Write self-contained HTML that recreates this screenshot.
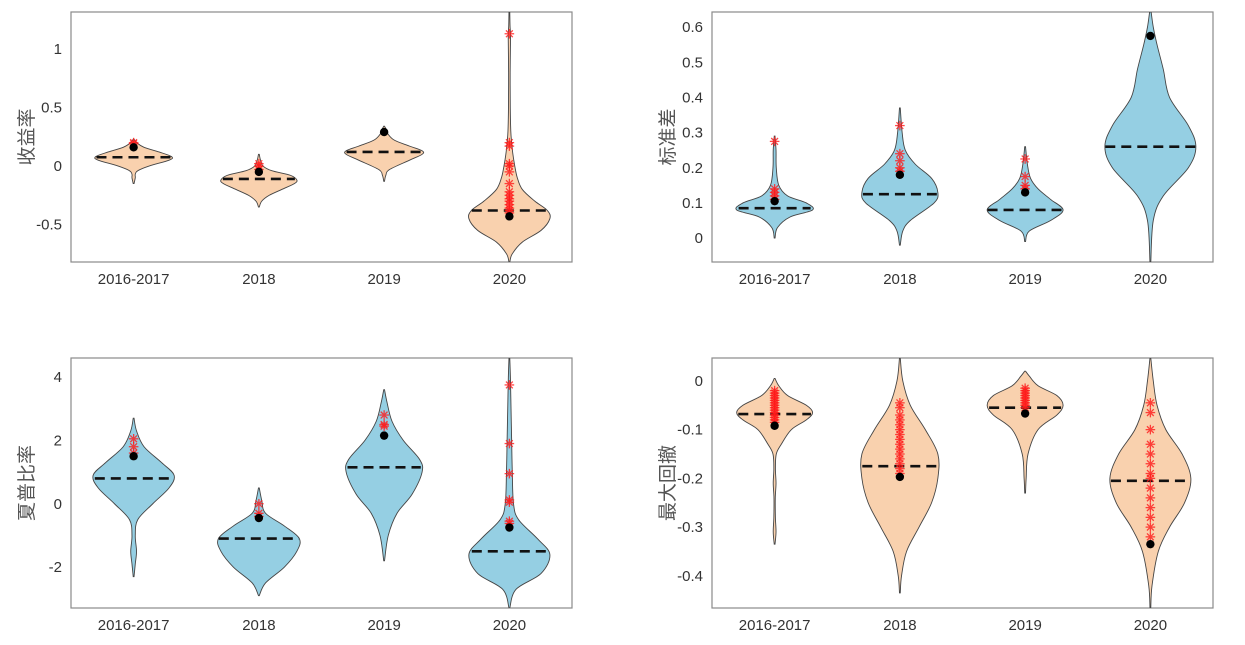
<!DOCTYPE html>
<html><head><meta charset="utf-8"><style>
html,body{margin:0;padding:0;background:#fff;width:1245px;height:645px;overflow:hidden}
svg text{font-family:"Liberation Sans","Noto Sans CJK SC",sans-serif}
</style></head><body>
<svg id="chart" width="1245" height="645" viewBox="0 0 1245 645" xmlns="http://www.w3.org/2000/svg"></svg>
<script>
const categories = ["2016-2017","2018","2019","2020"];

// Panel 1: 收益率
const retTicks = [-0.5,0,0.5,1];
const retTickLabels = ["-0.5","0","0.5","1"];
const retProfileY = [
 [-0.15,-0.1,-0.07,-0.04,0,0.05,0.08,0.12,0.16,0.2,0.23],
 [-0.35,-0.3,-0.25,-0.2,-0.15,-0.12,-0.08,-0.04,0,0.05,0.1],
 [-0.13,-0.08,-0.03,0.05,0.1,0.13,0.17,0.22,0.27,0.3,0.34],
 [-0.82,-0.75,-0.65,-0.55,-0.45,-0.38,-0.3,-0.2,-0.1,0,0.1,0.2,0.3,0.5,0.8,1.1,1.2,1.32]];
const retProfileW = [
 [0,0.01,0.01,0.03,0.12,0.28,0.3,0.2,0.08,0.02,0],
 [0,0.02,0.08,0.18,0.28,0.3,0.25,0.1,0.03,0.01,0],
 [0,0.01,0.04,0.2,0.3,0.3,0.2,0.08,0.03,0.02,0],
 [0,0.02,0.1,0.25,0.32,0.3,0.2,0.1,0.06,0.04,0.025,0.015,0.008,0.004,0.003,0.006,0.002,0]];
const retMedians = [0.075,-0.11,0.12,-0.38];
const retMeans = [0.16,-0.05,0.29,-0.43];
const retOutliers = [[0.2,0.19],[0,0.02,-0.03],[],[1.13,0.2,0.17,0.02,0,-0.05,-0.15,-0.22,-0.25,-0.28,-0.3,-0.33,-0.36,-0.38,-0.4]];

// Panel 2: 标准差
const stdTicks = [0,0.1,0.2,0.3,0.4,0.5,0.6];
const stdTickLabels = ["0","0.1","0.2","0.3","0.4","0.5","0.6"];
const stdProfileY = [
 [0,0.03,0.06,0.08,0.1,0.12,0.15,0.2,0.25,0.29],
 [-0.02,0.02,0.05,0.1,0.13,0.17,0.21,0.25,0.3,0.37],
 [-0.01,0.02,0.05,0.08,0.11,0.14,0.17,0.21,0.26],
 [-0.07,0.05,0.12,0.2,0.26,0.32,0.4,0.48,0.55,0.6,0.643]];
const stdProfileW = [
 [0,0.02,0.12,0.3,0.25,0.1,0.03,0.01,0.008,0],
 [0,0.02,0.08,0.27,0.3,0.25,0.12,0.04,0.015,0],
 [0,0.03,0.2,0.3,0.2,0.1,0.04,0.015,0],
 [0,0.02,0.1,0.3,0.36,0.3,0.15,0.1,0.05,0.02,0.003]];
const stdMedians = [0.085,0.125,0.08,0.26];
const stdMeans = [0.105,0.18,0.13,0.575];
const stdOutliers = [[0.275,0.14,0.13,0.12,0.11],[0.32,0.24,0.22,0.2,0.19],[0.225,0.175,0.15,0.14],[]];

// Panel 3: 夏普比率
const shpTicks = [-2,0,2,4];
const shpTickLabels = ["-2","0","2","4"];
const shpProfileY = [
 [-2.3,-1.9,-1.5,-1,-0.5,0,0.5,0.9,1.3,1.8,2.3,2.7],
 [-2.9,-2.5,-2,-1.5,-1.1,-0.7,-0.3,0.1,0.5],
 [-1.8,-1,-0.3,0.3,1,1.4,2,2.6,3.2,3.6],
 [-3.29,-2.7,-2.2,-1.6,-1.1,-0.5,0,1,2,3,4,4.6]];
const shpProfileW = [
 [0,0.01,0.02,0.01,0.03,0.15,0.28,0.32,0.22,0.08,0.02,0],
 [0,0.05,0.2,0.3,0.32,0.2,0.05,0.02,0],
 [0,0.03,0.1,0.22,0.3,0.28,0.15,0.06,0.02,0],
 [0,0.05,0.25,0.32,0.22,0.07,0.03,0.02,0.015,0.01,0.005,0]];
const shpMedians = [0.8,-1.1,1.15,-1.5];
const shpMeans = [1.5,-0.45,2.15,-0.75];
const shpOutliers = [[2.05,1.8,1.6],[0,-0.3,-0.4],[2.8,2.5,2.45],[3.75,1.9,0.95,0.12,0.05,-0.55,-0.62]];

// Panel 4: 最大回撤
const mddTicks = [-0.4,-0.3,-0.2,-0.1,0];
const mddTickLabels = ["-0.4","-0.3","-0.2","-0.1","0"];
const mddProfileY = [
 [-0.335,-0.31,-0.28,-0.24,-0.21,-0.18,-0.15,-0.13,-0.1,-0.08,-0.065,-0.05,-0.03,-0.01,0.005],
 [-0.435,-0.4,-0.35,-0.3,-0.25,-0.2,-0.15,-0.1,-0.05,0,0.047],
 [-0.23,-0.2,-0.15,-0.1,-0.07,-0.05,-0.03,-0.01,0.01,0.02],
 [-0.466,-0.42,-0.35,-0.3,-0.25,-0.2,-0.15,-0.1,-0.05,0,0.047]];
const mddProfileW = [
 [0,0.008,0.003,0.002,0.008,0.003,0.01,0.05,0.13,0.25,0.3,0.25,0.1,0.03,0],
 [0,0.01,0.05,0.15,0.25,0.3,0.3,0.2,0.08,0.02,0],
 [0,0.005,0.02,0.1,0.25,0.3,0.25,0.1,0.03,0],
 [0,0.01,0.06,0.15,0.27,0.32,0.25,0.12,0.05,0.02,0]];
const mddMedians = [-0.068,-0.175,-0.055,-0.205];
const mddMeans = [-0.092,-0.197,-0.067,-0.335];
const mddOutliers = [
 [-0.02,-0.025,-0.03,-0.035,-0.04,-0.045,-0.05,-0.055,-0.06,-0.065,-0.07,-0.075,-0.08,-0.085],
 [-0.045,-0.055,-0.07,-0.08,-0.09,-0.1,-0.11,-0.12,-0.13,-0.14,-0.15,-0.16,-0.17,-0.18,-0.19],
 [-0.015,-0.02,-0.025,-0.03,-0.035,-0.04,-0.045,-0.05,-0.055],
 [-0.045,-0.065,-0.1,-0.13,-0.15,-0.17,-0.19,-0.2,-0.22,-0.24,-0.26,-0.28,-0.3,-0.32]];

const NS = "http://www.w3.org/2000/svg";
const svg = document.getElementById("chart");
function mk(tag, attrs, parent){const e=document.createElementNS(NS,tag);for(const k in attrs)e.setAttribute(k,attrs[k]);(parent||svg).appendChild(e);return e;}

function smoothPath(pts){
  let d="M"+pts[0][0].toFixed(2)+","+pts[0][1].toFixed(2);
  for(let i=0;i<pts.length-1;i++){
    const p0=pts[Math.max(0,i-1)],p1=pts[i],p2=pts[i+1],p3=pts[Math.min(pts.length-1,i+2)];
    const c1=[p1[0]+(p2[0]-p0[0])/6,p1[1]+(p2[1]-p0[1])/6];
    const c2=[p2[0]-(p3[0]-p1[0])/6,p2[1]-(p3[1]-p1[1])/6];
    d+="C"+c1[0].toFixed(2)+","+c1[1].toFixed(2)+" "+c2[0].toFixed(2)+","+c2[1].toFixed(2)+" "+p2[0].toFixed(2)+","+p2[1].toFixed(2);
  }
  return d;
}
function widthAt(ys,ws,v){
  for(let i=0;i<ys.length-1;i++){if(v>=ys[i]&&v<=ys[i+1]){const t=(v-ys[i])/(ys[i+1]-ys[i]);return ws[i]+t*(ws[i+1]-ws[i]);}}
  return 0;
}

function panel(cfg){
  const g=mk("g",{});
  
  
  const L=cfg.x,T=cfg.y,W=501,H=250;
  const ys=v=>T+H*(cfg.ymax-v)/(cfg.ymax-cfg.ymin);
  const xs=c=>L+W*(c+0.5)/4;
  const xu=W/4;
  const frame=mk("rect",{x:L,y:T,width:W,height:H,fill:"none",stroke:"#8a8a8a","stroke-width":1.2},g);
  
  
  cfg.ticks.forEach((t,i)=>{
    const tx=mk("text",{x:L-9,y:ys(t)+5,"text-anchor":"end","font-size":15,fill:"#333"},g);
    tx.textContent=cfg.tickLabels[i];
    
    
  });
  categories.forEach((c,i)=>{
    const tx=mk("text",{x:xs(i),y:T+H+22,"text-anchor":"middle","font-size":15,fill:"#333"},g);
    tx.textContent=c;
    
    
  });
  const yt=mk("text",{x:0,y:0,"text-anchor":"middle","font-size":19,fill:"#555",transform:`translate(${L-38},${T+H/2}) rotate(-90)`},g);
  yt.textContent=cfg.title;
  
  
  const clip=mk("clipPath",{id:"clip"+cfg.name},g);
  mk("rect",{x:L,y:T,width:W,height:H},clip);
  const inner=mk("g",{"clip-path":`url(#clip${cfg.name})`},g);
  categories.forEach((c,i)=>{
    const Y=cfg.py[i],Wd=cfg.pw[i],cx=xs(i);
    const right=Y.map((v,k)=>[cx+Wd[k]*xu+0.4,ys(v)]);
    const left=Y.map((v,k)=>[cx-Wd[k]*xu-0.4,ys(v)]).reverse();
    const d=smoothPath(right)+"L"+smoothPath(left).slice(1)+"Z";
    const vp=mk("path",{d:d,fill:cfg.fill,stroke:"#444","stroke-width":0.9},inner);
    
    
    const hw=widthAt(Y,Wd,cfg.med[i])*xu;
    const ml=mk("line",{x1:cx-hw,x2:cx+hw,y1:ys(cfg.med[i]),y2:ys(cfg.med[i]),stroke:"#111","stroke-width":2.6,"stroke-dasharray":"10,6"},inner);
    
    
    cfg.out[i].forEach(v=>{
      const s=mk("g",{stroke:"#ff1a1a","stroke-width":1.3,opacity:0.8},inner);
      
      
      const px=cx,py=ys(v),r=4.8;
      mk("line",{x1:px-r,x2:px+r,y1:py,y2:py},s);
      mk("line",{x1:px,x2:px,y1:py-r,y2:py+r},s);
      mk("line",{x1:px-3.4,x2:px+3.4,y1:py-3.4,y2:py+3.4},s);
      mk("line",{x1:px-3.4,x2:px+3.4,y1:py+3.4,y2:py-3.4},s);
    });
    const dot=mk("circle",{cx:cx,cy:ys(cfg.mean[i]),r:4.2,fill:"#000"},inner);
    
    
  });
}

const PEACH="#f9d1ae", BLUE="#95cfe3";
panel({name:"return-panel",title:"收益率",x:71,y:12,ymin:-0.82,ymax:1.316,ticks:retTicks,tickLabels:retTickLabels,py:retProfileY,pw:retProfileW,med:retMedians,mean:retMeans,out:retOutliers,fill:PEACH});
panel({name:"std-panel",title:"标准差",x:712,y:12,ymin:-0.068,ymax:0.643,ticks:stdTicks,tickLabels:stdTickLabels,py:stdProfileY,pw:stdProfileW,med:stdMedians,mean:stdMeans,out:stdOutliers,fill:BLUE});
panel({name:"sharpe-panel",title:"夏普比率",x:71,y:358,ymin:-3.29,ymax:4.6,ticks:shpTicks,tickLabels:shpTickLabels,py:shpProfileY,pw:shpProfileW,med:shpMedians,mean:shpMeans,out:shpOutliers,fill:BLUE});
panel({name:"drawdown-panel",title:"最大回撤",x:712,y:358,ymin:-0.466,ymax:0.047,ticks:mddTicks,tickLabels:mddTickLabels,py:mddProfileY,pw:mddProfileW,med:mddMedians,mean:mddMeans,out:mddOutliers,fill:PEACH});
</script>
</body></html>
